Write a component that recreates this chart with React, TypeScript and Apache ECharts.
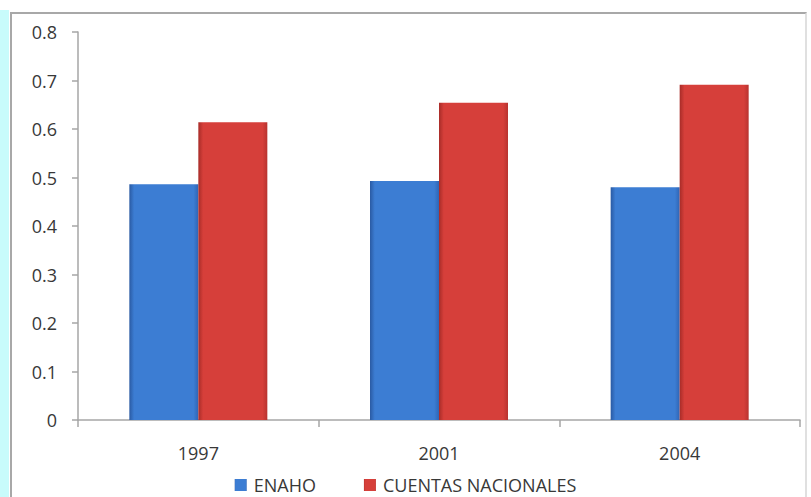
import React, { useEffect, useRef } from "react";
import * as echarts from "echarts";

const categories = ["1997", "2001", "2004"];
const enaho = [0.486, 0.493, 0.48];
const cuentas = [0.614, 0.654, 0.691];
const seriesNames = ["ENAHO", "CUENTAS NACIONALES"];

const FONT = "Open Sans";
const TXT = "#383838";

function grad(edge: string, mid: string, edge2: string) {
  return new echarts.graphic.LinearGradient(1, 0, 0, 0, [
    { offset: 0, color: edge2 },
    { offset: 0.07, color: mid },
    { offset: 0.93, color: mid },
    { offset: 1, color: edge },
  ]);
}

export default function App() {
  const ref = useRef<HTMLDivElement>(null);
  useEffect(() => {
    if (!ref.current) return;
    const chart = echarts.init(ref.current, null, { renderer: "svg" });
    chart.setOption({
      animation: false,
      backgroundColor: "transparent",
      grid: { left: 78, right: 11, top: 32, bottom: 77, containLabel: false },
      legend: {
        top: 475,
        left: "center",
        padding: 0,
        icon: "rect",
        itemWidth: 12,
        itemHeight: 12,
        itemGap: 48,
        textStyle: {
          fontFamily: FONT,
          fontSize: 18,
          lineHeight: 20,
          color: TXT,
          padding: [0, 0, 0, 2],
        },
        data: seriesNames,
      },
      xAxis: {
        type: "category",
        data: categories,
        axisLine: { show: true, lineStyle: { color: "#a6a6a6", width: 1.5 } },
        axisTick: { show: true, length: 7, lineStyle: { color: "#a6a6a6", width: 1.5 } },
        axisLabel: { fontFamily: FONT, fontSize: 18, color: TXT, margin: 24 },
      },
      yAxis: {
        type: "value",
        min: 0,
        max: 0.8,
        interval: 0.1,
        splitLine: { show: false },
        axisLine: { show: true, lineStyle: { color: "#a6a6a6", width: 1.5 } },
        axisTick: { show: true, length: 6, lineStyle: { color: "#a6a6a6", width: 1.5 } },
        axisLabel: {
          fontFamily: FONT,
          fontSize: 18,
          color: TXT,
          margin: 21,
          formatter: (v: number) => (v === 0 ? "0" : v.toFixed(1)),
        },
      },
      series: [
        {
          name: seriesNames[0],
          type: "bar",
          data: enaho,
          barWidth: 69,
          barGap: "0%",
          itemStyle: { color: grad("#2a5aa3", "#3c7dd3", "#2f65b5") },
        },
        {
          name: seriesNames[1],
          type: "bar",
          data: cuentas,
          barWidth: 69,
          barGap: "0%",
          itemStyle: { color: grad("#a82c28", "#d63f3a", "#b8332f") },
        },
      ],
    });
    return () => chart.dispose();
  }, []);

  return (
    <div
      style={{
        position: "fixed",
        left: 0,
        top: 0,
        width: 811,
        height: 497,
        background: "#ffffff",
        overflow: "hidden",
      }}
    >
      <div
        style={{
          position: "absolute",
          left: 0,
          top: 10,
          width: 9,
          height: 487,
          background: "#c8fbfb",
        }}
      />
      <div
        style={{
          position: "absolute",
          left: 10,
          top: 12,
          width: 797,
          height: 500,
          border: "2px solid #a8a8a8",
          borderRightColor: "#e0e0e0",
          boxSizing: "border-box",
        }}
      />
      <div ref={ref} style={{ position: "absolute", left: 0, top: 0, width: 811, height: 497 }} />
    </div>
  );
}
